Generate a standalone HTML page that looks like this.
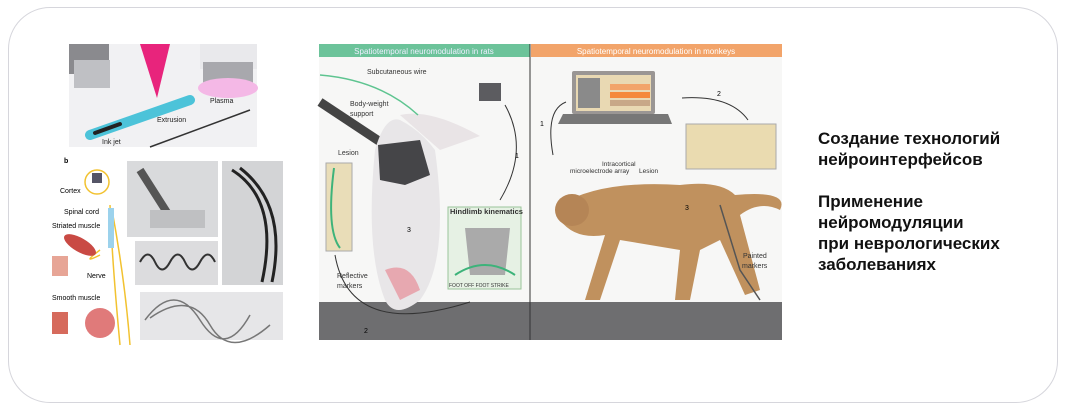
<!DOCTYPE html>
<html><head><meta charset="utf-8"><style>
body{margin:0;width:1071px;height:415px;background:#fff;overflow:hidden;font-family:"Liberation Sans",sans-serif}
.frame{position:absolute;left:8px;top:7px;width:1050px;height:396px;border:1px solid #d6d6dc;border-radius:42px;box-sizing:border-box}
.t{position:absolute;left:818px;font-weight:bold;font-size:17px;line-height:21px;color:#111}
</style></head><body>
<div class="frame"></div>
<svg width="1071" height="415" style="position:absolute;left:0;top:0" font-family="Liberation Sans">
<!-- top left photo -->
<rect x="69" y="44" width="188" height="103" fill="#f1f1f3"/>
<rect x="69" y="44" width="40" height="30" fill="#8a8a8e"/>
<rect x="74" y="60" width="36" height="28" fill="#bfc0c4"/>
<polygon points="140,44 170,44 157,98" fill="#e8247c"/>
<rect x="200" y="44" width="57" height="25" fill="#e9e9ec"/>
<rect x="203" y="62" width="50" height="22" fill="#a8a8ad"/>
<ellipse cx="228" cy="88" rx="30" ry="10" fill="#f4b8e6"/>
<path d="M90,135 L190,100" stroke="#4cc3d9" stroke-width="10" stroke-linecap="round"/>
<path d="M95,133 L120,124" stroke="#222" stroke-width="4" stroke-linecap="round"/>
<line x1="150" y1="147" x2="250" y2="110" stroke="#333" stroke-width="1.5"/>
<text x="210" y="103" font-size="7" fill="#222">Plasma</text>
<text x="157" y="122" font-size="7" fill="#222">Extrusion</text>
<text x="102" y="144" font-size="7" fill="#222">Ink jet</text>
<!-- b diagram -->
<text x="64" y="163" font-size="7" font-weight="bold">b</text>
<circle cx="97" cy="182" r="12" fill="none" stroke="#f2c230" stroke-width="1.5"/>
<rect x="92" y="173" width="10" height="10" fill="#556"/>
<path d="M110,205 Q112,260 120,345 M112,210 Q125,280 130,345 M100,255 Q80,265 100,250" stroke="#f2c230" stroke-width="1.5" fill="none"/>
<rect x="108" y="208" width="6" height="40" fill="#9cd2ec"/>
<text x="60" y="193" font-size="7">Cortex</text>
<text x="64" y="214" font-size="7">Spinal cord</text>
<text x="52" y="228" font-size="7">Striated muscle</text>
<text x="87" y="278" font-size="7">Nerve</text>
<text x="52" y="300" font-size="7">Smooth muscle</text>
<ellipse cx="80" cy="245" rx="18" ry="7" fill="#c94a44" transform="rotate(30 80 245)"/>
<rect x="52" y="256" width="16" height="20" fill="#e7a596"/>
<rect x="52" y="312" width="16" height="22" fill="#d66a5c"/>
<circle cx="100" cy="323" r="15" fill="#e07a7a"/>
<!-- photos -->
<rect x="127" y="161" width="91" height="76" fill="#d9dadc"/>
<path d="M140,170 L175,225" stroke="#555" stroke-width="8"/>
<rect x="150" y="210" width="55" height="18" fill="#bfc0c2"/>
<rect x="222" y="161" width="61" height="124" fill="#d3d4d6"/>
<path d="M232,170 Q280,200 262,282 M240,168 Q288,205 272,282" stroke="#222" stroke-width="3" fill="none"/>
<rect x="135" y="241" width="83" height="44" fill="#dcdcde"/>
<path d="M140,262 q8,-15 15,0 t15,0 t15,0 t15,0 t15,0" stroke="#333" stroke-width="2" fill="none"/>
<rect x="140" y="292" width="143" height="48" fill="#e6e6e8"/>
<path d="M145,320 Q175,280 200,320 T250,315 M150,318 Q190,290 210,325 T270,325" stroke="#777" stroke-width="1.5" fill="none"/>
<!-- middle panel -->
<rect x="319" y="44" width="211" height="13" fill="#6cc39a"/>
<rect x="531" y="44" width="251" height="13" fill="#f2a46a"/>
<text x="424" y="54" font-size="8" fill="#eef" text-anchor="middle">Spatiotemporal neuromodulation in rats</text>
<text x="656" y="54" font-size="8" fill="#fff" text-anchor="middle">Spatiotemporal neuromodulation in monkeys</text>
<rect x="319" y="57" width="463" height="245" fill="#f7f7f6"/>
<rect x="319" y="302" width="463" height="38" fill="#6e6e70"/>
<line x1="530" y1="44" x2="530" y2="340" stroke="#333" stroke-width="1"/>
<!-- rat -->
<line x1="320" y1="102" x2="400" y2="155" stroke="#444" stroke-width="9"/>
<path d="M400,120 Q420,130 435,150 Q450,260 420,300 Q395,320 385,300 Q365,250 375,150 Q385,115 400,120Z" fill="#e8e6e8"/>
<path d="M378,145 L420,140 L430,175 L405,185 L380,180Z" fill="#454548"/>
<path d="M400,115 Q430,108 480,136 L440,150Z" fill="#e9e4e6"/>
<path d="M385,270 Q410,260 420,290 L400,300Z" fill="#e7a8b0"/>
<rect x="326" y="163" width="26" height="88" fill="#e9ddb8" stroke="#aaa"/>
<path d="M334,168 Q326,230 340,248" stroke="#3db37a" stroke-width="2" fill="none"/>
<path d="M320,75 Q380,80 418,115" stroke="#5ec490" stroke-width="1.5" fill="none"/>
<rect x="479" y="83" width="22" height="18" fill="#5c5c60"/>
<rect x="448" y="207" width="73" height="82" fill="#e6f1e4" stroke="#9ac49a"/>
<text x="450" y="214" font-size="7.5" font-weight="bold" fill="#333">Hindlimb kinematics</text>
<polygon points="465,228 510,228 505,275 470,275" fill="#aaa"/>
<path d="M455,275 Q485,255 515,275" stroke="#3db37a" stroke-width="2" fill="none"/>
<text x="449" y="287" font-size="5" fill="#333">FOOT OFF  FOOT STRIKE</text>
<text x="367" y="74" font-size="7" fill="#333">Subcutaneous wire</text>
<text x="350" y="106" font-size="7" fill="#333">Body-weight</text>
<text x="350" y="116" font-size="7" fill="#333">support</text>
<text x="338" y="155" font-size="7" fill="#333">Lesion</text>
<text x="337" y="278" font-size="7" fill="#333">Reflective</text>
<text x="337" y="288" font-size="7" fill="#333">markers</text>
<path d="M505,105 Q530,150 500,200 M335,255 Q350,340 470,302" stroke="#333" stroke-width="1" fill="none"/>
<text x="515" y="158" font-size="7">1</text><text x="364" y="333" font-size="7">2</text><text x="407" y="232" font-size="7">3</text>
<!-- monkey -->
<rect x="572" y="71" width="83" height="43" fill="#9a9694" rx="2"/>
<rect x="576" y="75" width="75" height="36" fill="#e9d9b3"/>
<rect x="578" y="78" width="22" height="30" fill="#8a8a8a"/>
<rect x="610" y="84" width="40" height="6" fill="#f2a46a"/>
<rect x="610" y="92" width="40" height="6" fill="#f58a3a"/>
<rect x="610" y="100" width="40" height="6" fill="#c8a888"/>
<polygon points="563,114 668,114 672,124 558,124" fill="#777"/>
<rect x="686" y="124" width="90" height="45" fill="#eadbb0" stroke="#aaa"/>
<path d="M560,205 Q600,180 680,185 Q720,180 735,195 Q790,190 780,210 Q760,200 740,215 L760,290 L745,295 L720,240 L700,250 L690,300 L675,300 L680,250 L620,240 L600,300 L585,300 L605,235 Q575,240 560,220Z" fill="#c0915e"/>
<ellipse cx="572" cy="210" rx="17" ry="16" fill="#b58556"/>
<path d="M720,205 L740,270 L760,300" stroke="#555" stroke-width="1.5" fill="none"/>
<text x="602" y="166" font-size="6.5" fill="#333">Intracortical</text>
<text x="570" y="173" font-size="6.5" fill="#333">microelectrode array</text>
<text x="639" y="173" font-size="6.5" fill="#333">Lesion</text>
<text x="743" y="258" font-size="7" fill="#333">Painted</text>
<text x="742" y="268" font-size="7" fill="#333">markers</text>
<text x="540" y="126" font-size="7">1</text><text x="717" y="96" font-size="7">2</text><text x="685" y="210" font-size="7">3</text>
<path d="M553,155 Q545,110 566,102 M682,98 Q730,95 748,120" stroke="#333" stroke-width="1" fill="none"/>
</svg>
<div class="t" style="top:128px">Создание технологий<br>нейроинтерфейсов</div>
<div class="t" style="top:191px">Применение<br>нейромодуляции<br>при неврологических<br>заболеваниях</div>
</body></html>
